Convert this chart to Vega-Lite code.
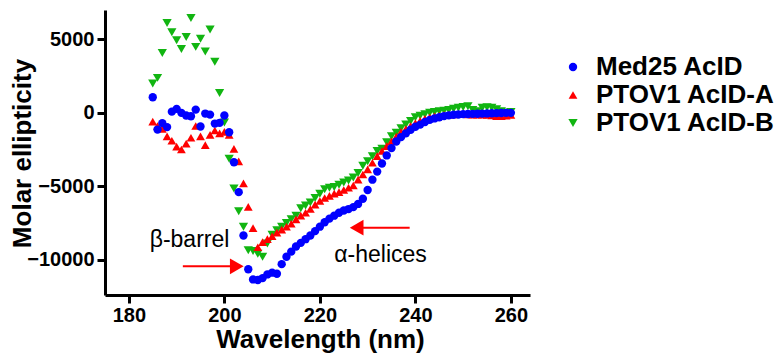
{
  "$schema": "https://vega.github.io/schema/vega-lite/v6.json",
  "width": 425,
  "height": 285,
  "autosize": "none",
  "padding": {"left": 105, "top": 10, "right": 252, "bottom": 58},
  "background": "white",
  "config": {
    "view": {"stroke": null},
    "font": "Liberation Sans",
    "axis": {
      "domainColor": "black", "domainWidth": 3, "tickColor": "black", "tickWidth": 3, "tickSize": 8,
      "labelFont": "Liberation Sans", "labelFontWeight": "bold", "labelFontSize": 20, "labelColor": "black",
      "titleFont": "Liberation Sans", "titleFontWeight": "bold", "titleFontSize": 26, "titleColor": "black",
      "grid": false
    },
    "legend": {
      "labelFont": "Liberation Sans", "labelFontWeight": "bold", "labelFontSize": 26, "labelColor": "black", "labelLimit": 0,
      "symbolSize": 40, "rowPadding": 2, "padding": 0, "labelOffset": 10, "symbolStrokeWidth": 0
    }
  },
  "datasets": {
    "cd": [
      {"wavelength":185,"Med25 AcID":1060,"PTOV1 AcID-A":-600,"PTOV1 AcID-B":1990},
      {"wavelength":186,"Med25 AcID":-1140,"PTOV1 AcID-A":-900,"PTOV1 AcID-B":2380},
      {"wavelength":187,"Med25 AcID":-700,"PTOV1 AcID-A":-1100,"PTOV1 AcID-B":4080},
      {"wavelength":188,"Med25 AcID":-970,"PTOV1 AcID-A":-1600,"PTOV1 AcID-B":6120},
      {"wavelength":189,"Med25 AcID":80,"PTOV1 AcID-A":-1900,"PTOV1 AcID-B":5480},
      {"wavelength":190,"Med25 AcID":270,"PTOV1 AcID-A":-2300,"PTOV1 AcID-B":4940},
      {"wavelength":191,"Med25 AcID":0,"PTOV1 AcID-A":-2500,"PTOV1 AcID-B":4350},
      {"wavelength":192,"Med25 AcID":-180,"PTOV1 AcID-A":-2100,"PTOV1 AcID-B":5170},
      {"wavelength":193,"Med25 AcID":-230,"PTOV1 AcID-A":-1700,"PTOV1 AcID-B":6460},
      {"wavelength":194,"Med25 AcID":220,"PTOV1 AcID-A":-900,"PTOV1 AcID-B":4490},
      {"wavelength":195,"Med25 AcID":-930,"PTOV1 AcID-A":-1600,"PTOV1 AcID-B":5050},
      {"wavelength":196,"Med25 AcID":-50,"PTOV1 AcID-A":-2200,"PTOV1 AcID-B":4170},
      {"wavelength":197,"Med25 AcID":-120,"PTOV1 AcID-A":-1500,"PTOV1 AcID-B":5670},
      {"wavelength":198,"Med25 AcID":-730,"PTOV1 AcID-A":-1200,"PTOV1 AcID-B":3470},
      {"wavelength":199,"Med25 AcID":-680,"PTOV1 AcID-A":-1400,"PTOV1 AcID-B":1350},
      {"wavelength":200,"Med25 AcID":-180,"PTOV1 AcID-A":-1300,"PTOV1 AcID-B":-660},
      {"wavelength":201,"Med25 AcID":-1320,"PTOV1 AcID-A":-1500,"PTOV1 AcID-B":-3130},
      {"wavelength":202,"Med25 AcID":-3360,"PTOV1 AcID-A":-2450,"PTOV1 AcID-B":-5150},
      {"wavelength":203,"Med25 AcID":-5400,"PTOV1 AcID-A":-3300,"PTOV1 AcID-B":-6700},
      {"wavelength":204,"Med25 AcID":-8350,"PTOV1 AcID-A":-4800,"PTOV1 AcID-B":-7750},
      {"wavelength":205,"Med25 AcID":-10650,"PTOV1 AcID-A":-6400,"PTOV1 AcID-B":-9350},
      {"wavelength":206,"Med25 AcID":-11340,"PTOV1 AcID-A":-7850,"PTOV1 AcID-B":-9400},
      {"wavelength":207,"Med25 AcID":-11380,"PTOV1 AcID-A":-9150,"PTOV1 AcID-B":-9600},
      {"wavelength":208,"Med25 AcID":-11250,"PTOV1 AcID-A":-8800,"PTOV1 AcID-B":-9800},
      {"wavelength":209,"Med25 AcID":-11000,"PTOV1 AcID-A":-8600,"PTOV1 AcID-B":-8900},
      {"wavelength":210,"Med25 AcID":-10880,"PTOV1 AcID-A":-8400,"PTOV1 AcID-B":-8300},
      {"wavelength":211,"Med25 AcID":-10950,"PTOV1 AcID-A":-8150,"PTOV1 AcID-B":-8000},
      {"wavelength":212,"Med25 AcID":-10300,"PTOV1 AcID-A":-7950,"PTOV1 AcID-B":-7750},
      {"wavelength":213,"Med25 AcID":-9800,"PTOV1 AcID-A":-7750,"PTOV1 AcID-B":-7500},
      {"wavelength":214,"Med25 AcID":-9450,"PTOV1 AcID-A":-7550,"PTOV1 AcID-B":-7250},
      {"wavelength":215,"Med25 AcID":-9100,"PTOV1 AcID-A":-7250,"PTOV1 AcID-B":-7000},
      {"wavelength":216,"Med25 AcID":-8850,"PTOV1 AcID-A":-7000,"PTOV1 AcID-B":-6500},
      {"wavelength":217,"Med25 AcID":-8600,"PTOV1 AcID-A":-6800,"PTOV1 AcID-B":-6300},
      {"wavelength":218,"Med25 AcID":-8350,"PTOV1 AcID-A":-6550,"PTOV1 AcID-B":-6100},
      {"wavelength":219,"Med25 AcID":-8050,"PTOV1 AcID-A":-6250,"PTOV1 AcID-B":-5800},
      {"wavelength":220,"Med25 AcID":-7750,"PTOV1 AcID-A":-6000,"PTOV1 AcID-B":-5500},
      {"wavelength":221,"Med25 AcID":-7450,"PTOV1 AcID-A":-5800,"PTOV1 AcID-B":-5200},
      {"wavelength":222,"Med25 AcID":-7200,"PTOV1 AcID-A":-5650,"PTOV1 AcID-B":-5100},
      {"wavelength":223,"Med25 AcID":-7000,"PTOV1 AcID-A":-5500,"PTOV1 AcID-B":-5050},
      {"wavelength":224,"Med25 AcID":-6800,"PTOV1 AcID-A":-5400,"PTOV1 AcID-B":-4900},
      {"wavelength":225,"Med25 AcID":-6650,"PTOV1 AcID-A":-5250,"PTOV1 AcID-B":-4750},
      {"wavelength":226,"Med25 AcID":-6550,"PTOV1 AcID-A":-5100,"PTOV1 AcID-B":-4600},
      {"wavelength":227,"Med25 AcID":-6420,"PTOV1 AcID-A":-4950,"PTOV1 AcID-B":-4400},
      {"wavelength":228,"Med25 AcID":-6200,"PTOV1 AcID-A":-4550,"PTOV1 AcID-B":-4100},
      {"wavelength":229,"Med25 AcID":-5850,"PTOV1 AcID-A":-4200,"PTOV1 AcID-B":-3600},
      {"wavelength":230,"Med25 AcID":-5250,"PTOV1 AcID-A":-3850,"PTOV1 AcID-B":-3300},
      {"wavelength":231,"Med25 AcID":-4550,"PTOV1 AcID-A":-3400,"PTOV1 AcID-B":-2950},
      {"wavelength":232,"Med25 AcID":-4000,"PTOV1 AcID-A":-2950,"PTOV1 AcID-B":-2600},
      {"wavelength":233,"Med25 AcID":-3450,"PTOV1 AcID-A":-2600,"PTOV1 AcID-B":-2450},
      {"wavelength":234,"Med25 AcID":-2900,"PTOV1 AcID-A":-2270,"PTOV1 AcID-B":-2000},
      {"wavelength":235,"Med25 AcID":-2400,"PTOV1 AcID-A":-1930,"PTOV1 AcID-B":-1600},
      {"wavelength":236,"Med25 AcID":-1950,"PTOV1 AcID-A":-1620,"PTOV1 AcID-B":-1350},
      {"wavelength":237,"Med25 AcID":-1650,"PTOV1 AcID-A":-1300,"PTOV1 AcID-B":-1050},
      {"wavelength":238,"Med25 AcID":-1400,"PTOV1 AcID-A":-1100,"PTOV1 AcID-B":-800},
      {"wavelength":239,"Med25 AcID":-1150,"PTOV1 AcID-A":-900,"PTOV1 AcID-B":-550},
      {"wavelength":240,"Med25 AcID":-950,"PTOV1 AcID-A":-700,"PTOV1 AcID-B":-300},
      {"wavelength":241,"Med25 AcID":-800,"PTOV1 AcID-A":-550,"PTOV1 AcID-B":-200},
      {"wavelength":242,"Med25 AcID":-620,"PTOV1 AcID-A":-400,"PTOV1 AcID-B":-100},
      {"wavelength":243,"Med25 AcID":-480,"PTOV1 AcID-A":-300,"PTOV1 AcID-B":0},
      {"wavelength":244,"Med25 AcID":-380,"PTOV1 AcID-A":-230,"PTOV1 AcID-B":50},
      {"wavelength":245,"Med25 AcID":-300,"PTOV1 AcID-A":-180,"PTOV1 AcID-B":100},
      {"wavelength":246,"Med25 AcID":-220,"PTOV1 AcID-A":-140,"PTOV1 AcID-B":150},
      {"wavelength":247,"Med25 AcID":-170,"PTOV1 AcID-A":-120,"PTOV1 AcID-B":200},
      {"wavelength":248,"Med25 AcID":-130,"PTOV1 AcID-A":-110,"PTOV1 AcID-B":280},
      {"wavelength":249,"Med25 AcID":-110,"PTOV1 AcID-A":-100,"PTOV1 AcID-B":350},
      {"wavelength":250,"Med25 AcID":-90,"PTOV1 AcID-A":-100,"PTOV1 AcID-B":400},
      {"wavelength":251,"Med25 AcID":-80,"PTOV1 AcID-A":-110,"PTOV1 AcID-B":450},
      {"wavelength":252,"Med25 AcID":-70,"PTOV1 AcID-A":-120,"PTOV1 AcID-B":200},
      {"wavelength":253,"Med25 AcID":-60,"PTOV1 AcID-A":-120,"PTOV1 AcID-B":100},
      {"wavelength":254,"Med25 AcID":-50,"PTOV1 AcID-A":-130,"PTOV1 AcID-B":350},
      {"wavelength":255,"Med25 AcID":-40,"PTOV1 AcID-A":-150,"PTOV1 AcID-B":380},
      {"wavelength":256,"Med25 AcID":-30,"PTOV1 AcID-A":-180,"PTOV1 AcID-B":350},
      {"wavelength":257,"Med25 AcID":-20,"PTOV1 AcID-A":-220,"PTOV1 AcID-B":250},
      {"wavelength":258,"Med25 AcID":-10,"PTOV1 AcID-A":-230,"PTOV1 AcID-B":100},
      {"wavelength":259,"Med25 AcID":0,"PTOV1 AcID-A":-200,"PTOV1 AcID-B":0},
      {"wavelength":260,"Med25 AcID":0,"PTOV1 AcID-A":-150,"PTOV1 AcID-B":50}
    ],
    "arrows": [
      {"from": 191.3, "to": 202.5, "level": -10450, "head": 202.6, "dir": "right"},
      {"from": 238.8, "to": 227.8, "level": -7820, "head": 227.7, "dir": "left"}
    ],
    "notes": [
      {"wavelength": 192.7, "ellipticity": -8640, "label": "β-barrel"},
      {"wavelength": 232.7, "ellipticity": -9700, "label": "α-helices"}
    ]
  },
  "layer": [
    {
      "mark": {"type": "rule", "color": "black", "strokeWidth": 3.5, "strokeDash": [0.1, 11.6], "strokeCap": "round"},
      "encoding": {"y": {"datum": 0, "type": "quantitative", "scale": {"domain": [-12400, 7000]}}}
    },
    {
      "data": {"name": "cd"},
      "transform": [
        {"fold": ["PTOV1 AcID-B", "PTOV1 AcID-A", "Med25 AcID"], "as": ["series", "ellipticity"]}
      ],
      "mark": {"type": "point", "filled": true, "opacity": 1},
      "encoding": {
        "x": {
          "field": "wavelength", "type": "quantitative",
          "scale": {"domain": [175, 264], "nice": false, "zero": false},
          "axis": {"values": [180, 200, 220, 240, 260], "title": "Wavelength (nm)", "labelPadding": 2,
                   "titleX": 215, "titleY": 52, "titleBaseline": "alphabetic", "titleAnchor": "middle"}
        },
        "y": {
          "field": "ellipticity", "type": "quantitative",
          "scale": {"domain": [-12400, 7000], "nice": false, "zero": false},
          "axis": {"values": [5000, 0, -5000, -10000], "format": "d", "title": "Molar ellipticity", "labelPadding": 3,
                   "titleX": -83, "titleY": 143, "titleAngle": -90, "titleAlign": "center", "titleBaseline": "middle"}
        },
        "color": {
          "field": "series", "type": "nominal",
          "scale": {"domain": ["Med25 AcID", "PTOV1 AcID-A", "PTOV1 AcID-B"], "range": ["#0000ff", "#ff0000", "#11b511"]},
          "legend": {"title": null, "orient": "none", "legendX": 455, "legendY": 44}
        },
        "shape": {
          "field": "series", "type": "nominal",
          "scale": {"domain": ["Med25 AcID", "PTOV1 AcID-A", "PTOV1 AcID-B"], "range": ["circle", "triangle-up", "triangle-down"]},
          "legend": {"title": null, "orient": "none", "legendX": 455, "legendY": 44}
        },
        "size": {
          "field": "series", "type": "nominal",
          "scale": {"domain": ["Med25 AcID", "PTOV1 AcID-A", "PTOV1 AcID-B"], "range": [70, 85, 85]},
          "legend": null
        },
        "order": {"field": "series", "sort": "descending"}
      }
    },
    {
      "data": {"name": "arrows"},
      "mark": {"type": "rule", "color": "#ff0000", "strokeWidth": 2},
      "encoding": {
        "x": {"field": "from", "type": "quantitative"},
        "x2": {"field": "to"},
        "y": {"field": "level", "type": "quantitative"}
      }
    },
    {
      "data": {"name": "arrows"},
      "transform": [{"filter": "datum.dir === 'right'"}],
      "mark": {"type": "point", "filled": true, "opacity": 1, "color": "#ff0000", "size": 250, "shape": "triangle-right"},
      "encoding": {
        "x": {"field": "head", "type": "quantitative"},
        "y": {"field": "level", "type": "quantitative"}
      }
    },
    {
      "data": {"name": "arrows"},
      "transform": [{"filter": "datum.dir === 'left'"}],
      "mark": {"type": "point", "filled": true, "opacity": 1, "color": "#ff0000", "size": 250, "shape": "triangle-left"},
      "encoding": {
        "x": {"field": "head", "type": "quantitative"},
        "y": {"field": "level", "type": "quantitative"}
      }
    },
    {
      "data": {"name": "notes"},
      "mark": {"type": "text", "font": "Liberation Sans", "fontSize": 23, "color": "black", "align": "center", "baseline": "middle"},
      "encoding": {
        "x": {"field": "wavelength", "type": "quantitative"},
        "y": {"field": "ellipticity", "type": "quantitative"},
        "text": {"field": "label"}
      }
    }
  ]
}
